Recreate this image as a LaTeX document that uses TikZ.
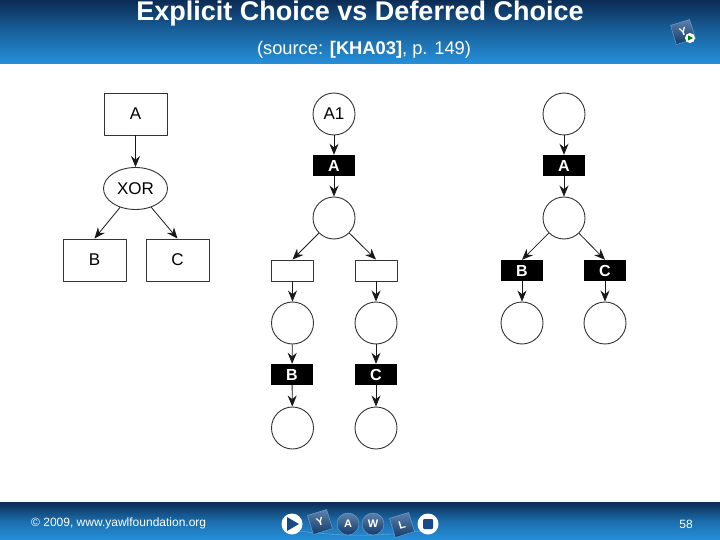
\documentclass[tikz,border=0pt]{standalone}
\usepackage{fontspec}
\setmainfont{Liberation Sans}
\usetikzlibrary{shapes.geometric,arrows.meta}
\definecolor{bardark}{HTML}{0B2C55}
\definecolor{barlight}{HTML}{2590DA}
\definecolor{logoblue}{HTML}{174A86}
\definecolor{logoedge}{HTML}{6FA8D8}
\begin{document}
\begin{tikzpicture}[x=1pt,y=-1pt,>={Stealth[length=11pt,width=9pt]}, line join=round]
	\tikzset{box/.style={draw=black!80, line width=0.9pt, rectangle, minimum width=63pt, minimum height=42pt, inner sep=0pt, font=\fontsize{17}{17}\selectfont},
		choice/.style={draw=black!80, line width=0.9pt, ellipse, minimum width=64pt, minimum height=42pt, inner sep=0pt, font=\fontsize{17}{17}\selectfont},
		place/.style={draw=black!80, line width=0.9pt, circle, minimum size=42pt, inner sep=0pt, font=\fontsize{17}{17}\selectfont},
		task/.style={fill=black, text=white, rectangle, minimum width=42pt, minimum height=21pt, inner sep=0pt, font=\bfseries\fontsize{16}{16}\selectfont},
		silent/.style={draw=black!80, line width=0.9pt, rectangle, minimum width=42pt, minimum height=21pt, inner sep=0pt},
		flow/.style={->, black!90, line width=0.8pt},
		logotile/.style={top color=logoblue!70!white, bottom color=logoblue!80!black, draw=logoedge, rectangle, rotate=17, minimum size=#1, inner sep=0pt, text=white, font=\bfseries\fontsize{11}{11}\selectfont},
		logodisc/.style={top color=logoblue!70!white, bottom color=logoblue!80!black, draw=logoedge, circle, minimum size=22pt, inner sep=0pt, text=white, font=\bfseries\fontsize{11}{11}\selectfont},
		logobutton/.style={fill=white, circle, minimum size=21pt, inner sep=0pt}}
	\useasboundingbox (0,0) rectangle (720,540);
	% bars
	\shade[top color=bardark, bottom color=barlight, middle color=barlight!55!bardark] (0,0) rectangle (720,64);
	\shade[top color=bardark, bottom color=barlight, middle color=barlight!65!bardark] (0,502) rectangle (720,540);
	\node[text=white, anchor=base, inner sep=0pt, font=\bfseries\fontsize{27}{27}\selectfont] (title) at (360,20.5) {Explicit Choice vs Deferred Choice};
	\node[text=white, anchor=base, inner sep=0pt, font=\fontsize{18.3}{19}\selectfont] (source) at (364,55) {(source: \textbf{[KHA03]}, p. 149)};
	\node[text=white, inner sep=0pt, font=\fontsize{12}{12}\selectfont, anchor=west] (copyright) at (31,523) {© 2009, www.yawlfoundation.org};
	\node[text=white, inner sep=0pt, font=\fontsize{12}{12}\selectfont] (page) at (686,524) {58};
	% corner logo
	\node[logotile=20pt] (cornertile) at (683,32) {Y};
	\node[fill=white, circle, minimum size=10pt, inner sep=0pt] (cornerbutton) at (690,38) {};
	\fill[green!50!black] (688,35.5) -- (693,38) -- (688,40.5) -- cycle;
	% footer logo
	\draw[logoedge] (292,530) .. controls (340,537) and (380,537) .. (427,530);
	\node[logobutton] (play) at (292,524) {};
	\node[logotile=20pt] (logoY) at (320,522) {Y};
	\node[logodisc] (logoA) at (348,524) {A};
	\node[logodisc] (logoW) at (373,524) {W};
	\node[logotile=20pt] (logoL) at (402,525) {L};
	\node[logobutton] (stop) at (428,524) {};
	\fill[logoblue] (287,517) -- (299,524) -- (287,531) -- cycle;
	\fill[logoblue, rounded corners=1pt] (423,519) rectangle (433,529);
	% explicit choice
	\node[box] (a) at (135.5,114) {A};
	\node[choice] (xor) at (135.5,188.5) {XOR};
	\node[box] (b) at (94.5,260) {B};
	\node[box] (c) at (177.5,260) {C};
	\draw[flow] (a) -- (xor);
	\draw[flow] (xor) -- (b.north);
	\draw[flow] (xor) -- (c.north);
	% middle net
	\node[place] (a1) at (334,114) {A1};
	\node[task] (mA) at (334,165.5) {A};
	\node[place] (m1) at (334,218) {};
	\node[silent] (sb) at (292.5,270.5) {};
	\node[silent] (sc) at (376,270.5) {};
	\node[place] (pb) at (292.5,323) {};
	\node[place] (pc) at (376,323) {};
	\node[task] (mB) at (292,374.5) {B};
	\node[task] (mC) at (376,374.5) {C};
	\node[place] (endb) at (292.5,428) {};
	\node[place] (endc) at (376,428) {};
	\draw[flow] (a1) -- (mA);
	\draw[flow] (mA) -- (m1);
	\draw[flow] (m1) -- (sb.north);
	\draw[flow] (m1) -- (sc.north);
	\draw[flow] (sb) -- (pb);
	\draw[flow] (sc) -- (pc);
	\draw[flow] (pb) -- (mB);
	\draw[flow] (pc) -- (mC);
	\draw[flow] (mB) -- (endb);
	\draw[flow] (mC) -- (endc);
	% deferred choice
	\node[place] (r0) at (564,114) {};
	\node[task] (rA) at (564,165.5) {A};
	\node[place] (r1) at (564,218) {};
	\node[task] (rB) at (522,270.5) {B};
	\node[task] (rC) at (605,270.5) {C};
	\node[place] (rb) at (522,323) {};
	\node[place] (rc) at (605,323) {};
	\draw[flow] (r0) -- (rA);
	\draw[flow] (rA) -- (r1);
	\draw[flow] (r1) -- (rB.north);
	\draw[flow] (r1) -- (rC.north);
	\draw[flow] (rB) -- (rb);
	\draw[flow] (rC) -- (rc);
\end{tikzpicture}
\end{document}
